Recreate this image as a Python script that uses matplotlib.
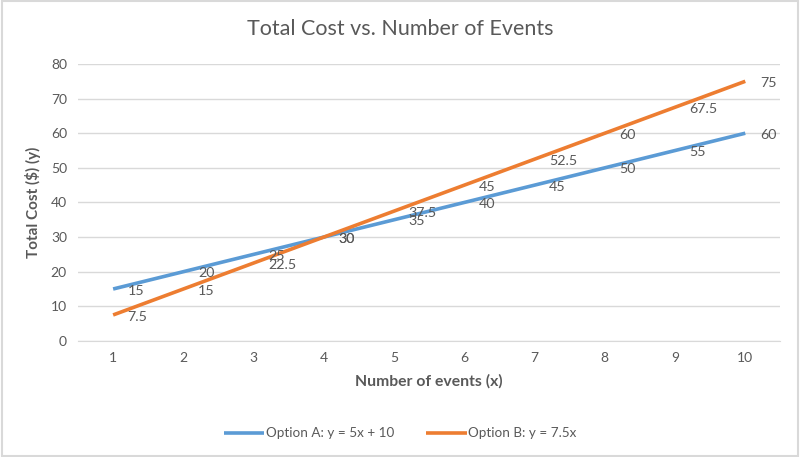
import matplotlib.pyplot as plt
from matplotlib.patches import Rectangle

plt.rcParams['font.family'] = ['Lato', 'DejaVu Sans']

events = [1, 2, 3, 4, 5, 6, 7, 8, 9, 10]
option_a = [15, 20, 25, 30, 35, 40, 45, 50, 55, 60]
option_b = [7.5, 15, 22.5, 30, 37.5, 45, 52.5, 60, 67.5, 75]
label_a = 'Option A: y = 5x + 10'
label_b = 'Option B: y = 7.5x'

blue = '#5B9BD5'
orange = '#ED7D31'
text_col = '#595959'
grid_col = '#D9D9D9'

fig = plt.figure(figsize=(8, 4.57), dpi=100)
ax = fig.add_axes([0.0975, 0.254, 0.878, 0.606])

ax.plot(events, option_a, color=blue, lw=2.6, label=label_a, solid_capstyle='butt')
ax.plot(events, option_b, color=orange, lw=2.6, label=label_b, solid_capstyle='butt')

def fmt(v):
    return f'{v:g}'

# data labels to the right of each point
for series in (option_a, option_b):
    for x, v in zip(events, series):
        ax.annotate(fmt(v), (x, v), xytext=(10.5, -1.2), textcoords='offset points',
                    ha='left', va='center', fontsize=10.3, color=text_col)

ax.set_xlim(0.5, 10.5)
ax.set_ylim(0, 80)
ax.set_xticks(events)
ax.set_yticks(range(0, 81, 10))
ax.tick_params(length=0, colors=text_col, labelsize=10, pad=8)
ax.grid(axis='y', color=grid_col, lw=1)
ax.set_axisbelow(True)
for s in ['top', 'right', 'left']:
    ax.spines[s].set_visible(False)
ax.spines['bottom'].set_color(grid_col)

ax.set_xlabel('Number of events (x)', fontsize=11.3, fontweight='bold', color=text_col, labelpad=7)
ax.set_ylabel('Total Cost ($) (y)', fontsize=11, fontweight='bold', color=text_col, labelpad=7)
fig.suptitle('Total Cost vs. Number of Events', y=0.958, fontsize=15.5, color=text_col)

leg = fig.legend(loc='center', bbox_to_anchor=(0.5, 0.052), ncol=2, frameon=False,
                 fontsize=9.7, handlelength=3, handletextpad=0.1, columnspacing=2.4)
for t in leg.get_texts():
    t.set_color(text_col)

fig.patches.append(Rectangle((0.002, 0.003), 0.996, 0.994, transform=fig.transFigure,
                             fill=False, edgecolor=grid_col, lw=1.5))

fig.savefig('out.png', dpi=100)
